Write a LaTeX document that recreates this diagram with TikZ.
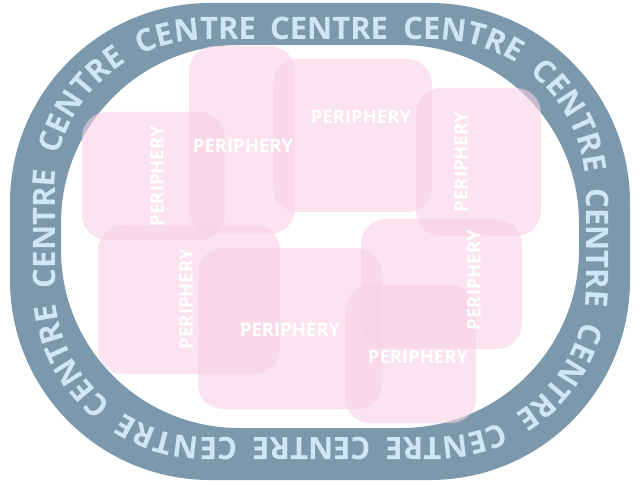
\documentclass[tikz,border=0pt]{standalone}
\usepackage{fontspec}
\setmainfont{Open Sans}
\usetikzlibrary{decorations.text}
\definecolor{anello}{HTML}{7B98AD}
\definecolor{testoanello}{HTML}{CFE6F7}
\definecolor{rosa}{HTML}{F8D2E4}
\begin{document}
\begin{tikzpicture}[x=1pt,y=-1pt,
    riquadro/.style={fill=rosa,fill opacity=0.6,rounded corners=25pt},
    etichetta/.style={text=white,font=\bfseries\fontsize{18.5}{18.5}\selectfont,inner sep=0pt}]
    \useasboundingbox (0,0) rectangle (639,486);
    % anello
    \fill[anello,even odd rule,rounded corners=200pt] (10,3) rectangle (630,480)
        [rounded corners=178pt] (61,45) rectangle (579,428);
    % scritta lungo l'anello
    \path[decorate,decoration={text along path,text color=testoanello,
        text={|\bfseries\fontsize{31}{31}\selectfont|CENTRE CENTRE CENTRE CENTRE CENTRE CENTRE CENTRE CENTRE CENTRE CENTRE CENTRE CENTRE},
        text align=fit to path stretching spaces},
        rounded corners=150pt]
        (270,40) -- (586,40) -- (586,437) -- (55,437) -- (55,40) -- (256,40);

    % riquadri
    \fill[riquadro] (82,112) rectangle (225,240);
    \fill[riquadro] (189,46) rectangle (295,234);
    \fill[riquadro] (273,59) rectangle (432,212);
    \fill[riquadro] (416,88) rectangle (541,236);
    \fill[riquadro] (98,225) rectangle (280,374);
    \fill[riquadro] (198,248) rectangle (382,409);
    \fill[riquadro] (361,219) rectangle (522,349);
    \fill[riquadro] (345,285) rectangle (476,423);

    % etichette
    \node[etichetta,rotate=90] (pa) at (157,176) {PERIPHERY};
    \node[etichetta] (pb) at (243,146) {PERIPHERY};
    \node[etichetta] (pc) at (361,117) {PERIPHERY};
    \node[etichetta,rotate=90] (pd) at (461,162) {PERIPHERY};
    \node[etichetta,rotate=90] (pe) at (186,299) {PERIPHERY};
    \node[etichetta] (pf) at (290,330) {PERIPHERY};
    \node[etichetta,rotate=90] (pg) at (474,280) {PERIPHERY};
    \node[etichetta] (ph) at (418,357) {PERIPHERY};
\end{tikzpicture}
\end{document}
